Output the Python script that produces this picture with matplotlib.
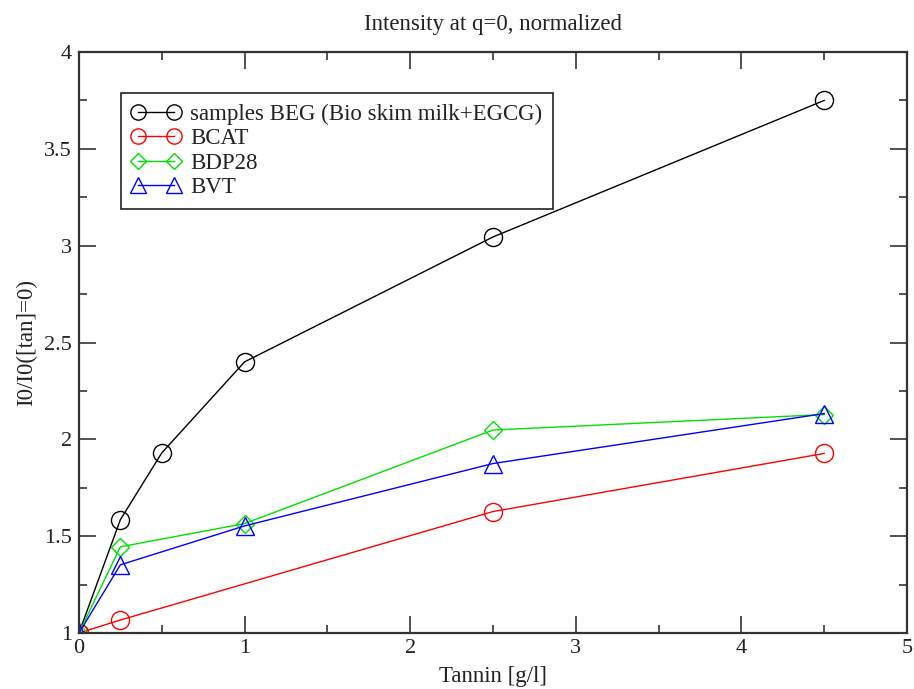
import matplotlib
matplotlib.use("Agg")
import matplotlib.pyplot as plt
from matplotlib.ticker import MultipleLocator

plt.rcParams['font.family'] = ['Liberation Serif', 'DejaVu Serif']

# data
tannin_beg = [0, 0.25, 0.5, 1, 2.5, 4.5]
i_beg = [1.0, 1.585, 1.93, 2.40, 3.045, 3.75]

tannin_bcat = [0, 0.25, 2.5, 4.5]
i_bcat = [1.0, 1.067, 1.627, 1.927]

tannin_bdp = [0, 0.25, 1, 2.5, 4.5]
i_bdp = [1.0, 1.445, 1.565, 2.048, 2.128]

tannin_bvt = [0, 0.25, 1, 2.5, 4.5]
i_bvt = [1.0, 1.352, 1.553, 1.875, 2.133]

labels = ['samples BEG (Bio skim milk+EGCG)', 'BCAT', 'BDP28', 'BVT']

fig = plt.figure(figsize=(9.14, 6.89), dpi=100)
ax = fig.add_axes([0.0864, 0.0813, 0.9059, 0.8432])

ms = 13
green = '#00e000'
ax.plot(tannin_beg, i_beg, color='black', lw=1, marker='o', ms=ms, mfc='none', mew=1, label=labels[0])
ax.plot(tannin_bcat, i_bcat, color='red', lw=1, marker='o', ms=ms, mfc='none', mew=1, label=labels[1])
ax.plot(tannin_bdp, i_bdp, color=green, lw=1, marker='D', ms=ms * 0.72, mfc='none', mew=1, label=labels[2])
ax.plot(tannin_bvt, i_bvt, color='blue', lw=1, marker='^', ms=ms * 0.95, mfc='none', mew=1, label=labels[3])

ax.set_xlim(0, 5)
ax.set_ylim(1, 4)
ax.xaxis.set_major_locator(MultipleLocator(1))
ax.xaxis.set_minor_locator(MultipleLocator(0.5))
ax.yaxis.set_major_locator(MultipleLocator(0.5))
ax.yaxis.set_minor_locator(MultipleLocator(0.25))
ax.yaxis.set_major_formatter(plt.FuncFormatter(lambda v, p: ('%g' % v)))
ax.tick_params(which='both', direction='in', top=True, right=True, labelsize=16,
               width=1.2, color='#333333', labelcolor='#222222')
ax.tick_params(which='major', length=12)
ax.tick_params(which='minor', length=6)
ax.tick_params(axis='x', pad=4)
ax.tick_params(axis='y', pad=5)
for s in ax.spines.values():
    s.set_linewidth(1.6)
    s.set_color('#333333')

ax.set_xlabel('Tannin [g/l]', fontsize=16.5, labelpad=6, color='#222222')
ax.set_ylabel('I0/I0([tan]=0)', fontsize=16.5, labelpad=5, color='#222222')
ax.set_title('Intensity at q=0, normalized', fontsize=16.5, pad=16, color='#222222')

leg = ax.legend(loc='upper left', bbox_to_anchor=(0.0507, 0.929), fontsize=16.5,
                frameon=True, fancybox=False, edgecolor='#222222', framealpha=1,
                handlelength=2.17, handletextpad=0.4, labelspacing=0.15,
                borderpad=0.45, borderaxespad=0, numpoints=2)
leg.get_frame().set_linewidth(1.2)
for t in leg.get_texts():
    t.set_color('#222222')
legend_sizes = [11, 11, 7.8, 11]
for h, s in zip(leg.legend_handles, legend_sizes):
    h.set_markersize(s)

fig.savefig('out.png', dpi=100)
